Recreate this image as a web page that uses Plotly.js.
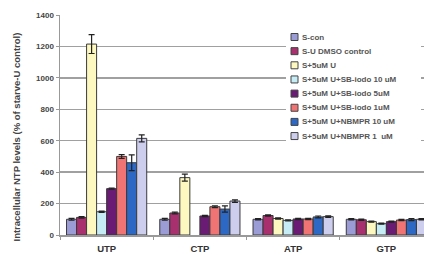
<!DOCTYPE html>
<html><head><meta charset="utf-8">
<script src="https://cdn.plot.ly/plotly-3.0.1.min.js"></script>
<style>html,body{margin:0;padding:0;overflow:hidden;background:#fff;width:424px;height:255px}</style>
</head><body><div id="chart"></div>
<script>
var categories = ["UTP", "CTP", "ATP", "GTP"];
var seriesNames = ["S-con", "S-U DMSO control", "S+5uM U", "S+5uM U+SB-iodo 10 uM", "S+5uM U+SB-iodo 5uM", "S+5uM U+SB-iodo 1uM", "S+5uM U+NBMPR 10 uM", "S+5uM U+NBMPR 1  uM"];
var sCon      = [100, 100, 100, 100];
var sDmso     = [112, 140, 124, 97];
var s5uM      = [1215, 365, 105, 85];
var sbIodo10  = [148, null, 93, 72];
var sbIodo5   = [295, 121, 102, 85];
var sbIodo1   = [500, 180, 102, 95];
var nbmpr10   = [460, 165, 115, 98];
var nbmpr1    = [615, 216, 117, 100];
var errCon    = [6, 6, 4, 4];
var errDmso   = [5, 5, 4, 4];
var err5uM    = [60, 22, 4, 4];
var errSb10   = [4, 0, 4, 3];
var errSb5    = [4, 4, 4, 3];
var errSb1    = [12, 6, 4, 4];
var errNb10   = [50, 20, 6, 6];
var errNb1    = [22, 8, 5, 4];

var values = [sCon, sDmso, s5uM, sbIodo10, sbIodo5, sbIodo1, nbmpr10, nbmpr1];
var errors = [errCon, errDmso, err5uM, errSb10, errSb5, errSb1, errNb10, errNb1];
var colors = ["#9b9bd6", "#a8306e", "#fdf8bf", "#c6ecf6", "#6a1c74", "#f07474", "#2c68c4", "#cdcdee"];

var traces = values.map(function (v, i) {
  return {
    type: "bar", name: seriesNames[i], x: categories, y: v, showlegend: false,
    marker: {color: colors[i], line: {color: "#3a3a3a", width: 1}},
    error_y: {type: "data", array: errors[i], visible: true, color: "#222", thickness: 1.2, width: 3}
  };
});

// plot area in pixels: x 60..433, y 15..235
function px(x) { return (x - 60) / 373; }
function py(y) { return (235 - y) / 220; }

var shapes = [{type: "rect", xref: "paper", yref: "paper", layer: "above",
  x0: px(286), x1: px(421), y0: py(146), y1: py(29), fillcolor: "#fff", line: {width: 0}}];
var annotations = [{
  text: "<b>Intracellular NTP levels (% of starve-U control)</b>",
  xref: "paper", yref: "paper", x: px(8), y: py(137), showarrow: false,
  textangle: -90, font: {size: 9.5, color: "#444"}
}];
seriesNames.forEach(function (name, i) {
  var cy = 37 + i * 14.15;
  shapes.push({type: "rect", xref: "paper", yref: "paper", layer: "above",
    x0: px(291), x1: px(298), y0: py(cy + 3.5), y1: py(cy - 3.5),
    fillcolor: colors[i], line: {color: "#444", width: 1}});
  annotations.push({text: name, xref: "paper", yref: "paper", x: px(300), y: py(cy),
    xanchor: "left", yanchor: "middle", showarrow: false,
    font: {size: 8, color: "#555", weight: "bold"}});
});

var layout = {
  width: 440, height: 255,
  margin: {l: 60, r: 7, t: 15, b: 20},
  paper_bgcolor: "#fff", plot_bgcolor: "#fff",
  barmode: "group", bargap: 0.14, bargroupgap: 0,
  font: {family: "Liberation Sans, Arial, sans-serif", color: "#444"},
  showlegend: false,
  xaxis: {type: "category", showline: true, linecolor: "#999", linewidth: 1.5,
          ticks: "outside", tickson: "boundaries", ticklen: 3, tickcolor: "#999",
          ticklabelstandoff: 4,
          tickfont: {size: 9.5, color: "#333", weight: "bold"},
          showgrid: false},
  yaxis: {range: [0, 1400], dtick: 200, showline: true, linecolor: "#999", linewidth: 1.5,
          gridcolor: "#a0a0a0", gridwidth: 1.5, ticks: "outside", ticklen: 3, tickcolor: "#999",
          tickfont: {size: 8, color: "#444", weight: "bold"}, zeroline: false},
  shapes: shapes,
  annotations: annotations
};

Plotly.newPlot("chart", traces, layout, {displayModeBar: false, staticPlot: true});
</script></body></html>
